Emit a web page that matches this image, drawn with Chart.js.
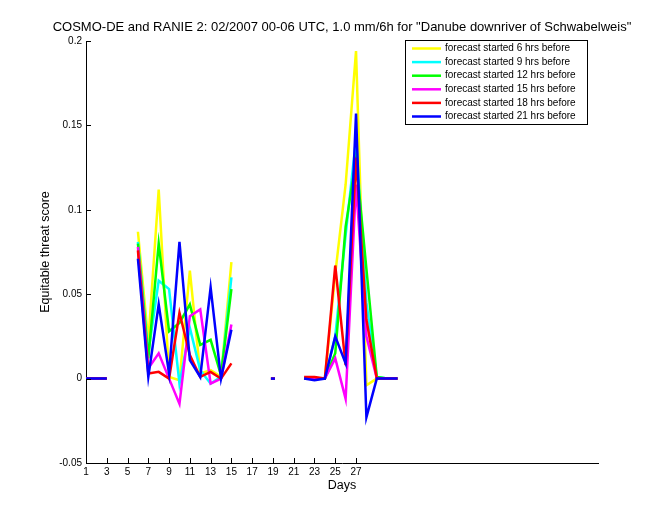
<!DOCTYPE html>
<html>
<head>
<meta charset="utf-8">
<script src="https://cdn.jsdelivr.net/npm/chart.js@4.4.1/dist/chart.umd.min.js"></script>
<style>
  body { margin: 0; background: #fff; }
  canvas { display: block; }
</style>
</head>
<body>
<canvas id="ets-chart" width="660" height="520"></canvas>
<script>
// Tage 1..31
var days = [1, 2, 3, 4, 5, 6, 7, 8, 9, 10, 11, 12, 13, 14, 15, 16, 17, 18, 19, 20, 21, 22, 23, 24, 25, 26, 27, 28, 29, 30, 31];

// ETS je Vorlaufzeit (null = keine Daten)
var ets6h  = [0, 0, 0, null, null, 0.087, 0.022, 0.112, 0.001, -0.001, 0.064, 0.003, 0.005, 0.001, 0.069, null, null, null, 0, null, null, 0, 0, 0, 0.062, 0.115, 0.194, -0.004, 0, 0, 0];
var ets9h  = [0, 0, 0, null, null, 0.081, 0.015, 0.058, 0.053, -0.003, 0.030, 0.005, -0.003, 0.001, 0.060, null, null, null, 0, null, null, 0, 0, 0, 0.025, 0.085, 0.142, 0.045, 0.001, 0, 0];
var ets12h = [0, 0, 0, null, null, 0.080, 0.012, 0.080, 0.028, 0.033, 0.044, 0.020, 0.023, 0.002, 0.053, null, null, null, 0, null, null, 0, 0, 0, 0.015, 0.090, 0.130, 0.065, 0.001, 0, 0];
var ets15h = [0, 0, 0, null, null, 0.078, 0.006, 0.015, 0.000, -0.015, 0.037, 0.041, -0.003, 0.000, 0.032, null, null, null, 0, null, null, 0, 0, 0, 0.012, -0.012, 0.115, 0.025, 0, 0, 0];
var ets18h = [0, 0, 0, null, null, 0.076, 0.003, 0.004, 0.000, 0.039, 0.014, 0.001, 0.004, 0.000, 0.009, null, null, null, 0, null, null, 0.001, 0.001, 0, 0.067, 0.008, 0.131, 0.035, 0, 0, 0];
var ets21h = [0, 0, 0, null, null, 0.071, 0.001, 0.044, 0.003, 0.081, 0.011, 0.001, 0.054, 0.000, 0.029, null, null, null, 0, null, null, 0, -0.001, 0, 0.025, 0.009, 0.157, -0.023, 0, 0, 0];

var seriesLabels = ['forecast started 6 hrs before', 'forecast started 9 hrs before', 'forecast started 12 hrs before',
                    'forecast started 15 hrs before', 'forecast started 18 hrs before', 'forecast started 21 hrs before'];
var seriesColors = ['#ffff00', '#00ffff', '#00ff00', '#ff00ff', '#ff0000', '#0000ff'];

var xTicks = [1, 3, 5, 7, 9, 11, 13, 15, 17, 19, 21, 23, 25, 27];
var yTicks = [-0.05, 0, 0.05, 0.1, 0.15, 0.2];

var titleText = 'COSMO-DE and RANIE 2: 02/2007 00-06 UTC, 1.0 mm/6h for "Danube downriver of Schwabelweis"';
var FONT = '"Liberation Sans", Arial, Helvetica, sans-serif';

function toPoints(vals) {
    return days.map(function (d, i) { return { x: d, y: vals[i] }; });
}

// einzelne Punkte zwischen Lücken als kurzer Strich
function isolatedRadius(ctx) {
    var vals = ctx.dataset.data;
    var i = ctx.dataIndex;
    if (vals[i].y === null) return 0;
    var prev = i > 0 ? vals[i - 1].y : null;
    var next = i < vals.length - 1 ? vals[i + 1].y : null;
    return (prev === null && next === null) ? 2 : 0;
}

var allSeries = [ets6h, ets9h, ets12h, ets15h, ets18h, ets21h];
var datasets = allSeries.map(function (vals, k) {
    return {
        label: seriesLabels[k],
        data: toPoints(vals),
        borderColor: seriesColors[k],
        backgroundColor: seriesColors[k],
        borderWidth: 2.5,
        pointRadius: isolatedRadius,
        pointStyle: 'line',
        pointBorderWidth: 2.5,
        pointBorderColor: seriesColors[k],
        tension: 0,
        fill: false,
        order: allSeries.length - 1 - k
    };
});

// Titel, Achsenbeschriftung, Ticks nach innen, Legende mit Rahmen
var decorPlugin = {
    id: 'decor',
    afterDraw: function (chart) {
        var ctx = chart.ctx;
        var area = chart.chartArea;
        var xs = chart.scales.x;
        var ys = chart.scales.y;
        ctx.save();
        ctx.strokeStyle = '#000';
        ctx.lineWidth = 1;
        ys.ticks.forEach(function (t) {
            var py = Math.round(ys.getPixelForValue(t.value)) + 0.5;
            ctx.beginPath();
            ctx.moveTo(area.left, py);
            ctx.lineTo(area.left + 5, py);
            ctx.stroke();
        });
        xs.ticks.forEach(function (t) {
            var px = Math.round(xs.getPixelForValue(t.value)) + 0.5;
            ctx.beginPath();
            ctx.moveTo(px, area.bottom);
            ctx.lineTo(px, area.bottom - 5);
            ctx.stroke();
        });

        ctx.fillStyle = '#000';
        ctx.textAlign = 'center';
        ctx.textBaseline = 'middle';
        var cx = (area.left + area.right) / 2;
        ctx.font = '13px ' + FONT;
        ctx.fillText(titleText, cx, area.top - 14);
        ctx.font = '12.5px ' + FONT;
        ctx.fillText('Days', cx, area.bottom + 23);
        ctx.save();
        ctx.translate(area.left - 40, (area.top + area.bottom) / 2);
        ctx.rotate(-Math.PI / 2);
        ctx.fillText('Equitable threat score', 0, 0);
        ctx.restore();

        // Legende
        var bx = area.right - 193, by = area.top - 1, bw = 182, bh = 84;
        ctx.fillStyle = '#fff';
        ctx.fillRect(bx, by, bw, bh);
        ctx.strokeRect(bx + 0.5, by + 0.5, bw, bh);
        ctx.font = '10px ' + FONT;
        ctx.textAlign = 'left';
        chart.data.datasets.forEach(function (ds, i) {
            var ry = by + 8.5 + i * 13.6;
            ctx.strokeStyle = ds.borderColor;
            ctx.lineWidth = 2.5;
            ctx.beginPath();
            ctx.moveTo(bx + 7, ry);
            ctx.lineTo(bx + 36, ry);
            ctx.stroke();
            ctx.fillStyle = '#000';
            ctx.fillText(ds.label, bx + 40, ry);
        });
        ctx.restore();
    }
};

function createChart() {
    var canvas = document.getElementById('ets-chart');
    new Chart(canvas, {
        type: 'line',
        data: { datasets: datasets },
        options: {
            responsive: false,
            animation: false,
            events: [],
            layout: { padding: { top: 41, right: 62, left: 0, bottom: 0 } },
            plugins: {
                legend: { display: false },
                title: { display: false },
                tooltip: { enabled: false }
            },
            scales: {
                x: {
                    type: 'linear',
                    min: 1,
                    max: 50.3,
                    afterBuildTicks: function (s) { s.ticks = xTicks.map(function (v) { return { value: v }; }); },
                    afterFit: function (s) { s.height = 57; },
                    grid: { display: false, drawTicks: false },
                    border: { display: true, color: '#000', width: 1 },
                    ticks: {
                        color: '#000',
                        font: { family: FONT, size: 10 },
                        padding: 3,
                        maxRotation: 0,
                        autoSkip: false,
                        callback: function (v) { return String(v); }
                    }
                },
                y: {
                    min: -0.05,
                    max: 0.2,
                    afterBuildTicks: function (s) { s.ticks = yTicks.map(function (v) { return { value: v }; }); },
                    afterFit: function (s) { s.width = 86; },
                    grid: { display: false, drawTicks: false },
                    border: { display: true, color: '#000', width: 1 },
                    ticks: {
                        color: '#000',
                        font: { family: FONT, size: 10 },
                        padding: 4,
                        callback: function (v) { return String(v); }
                    }
                }
            }
        },
        plugins: [decorPlugin]
    });
}

document.addEventListener('DOMContentLoaded', createChart);
</script>
</body>
</html>
